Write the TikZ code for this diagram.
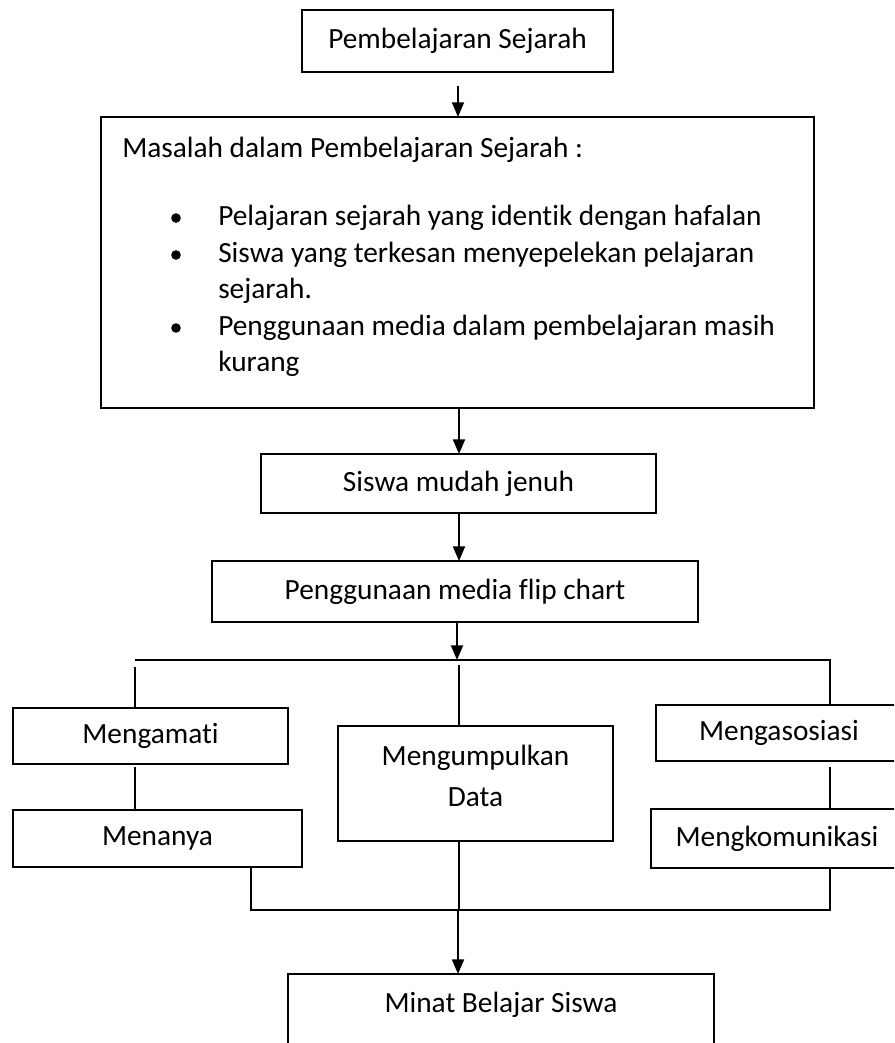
\documentclass[tikz,border=0pt]{standalone}
\usepackage{fontspec}
\setmainfont{Carlito}[Ligatures={NoCommon}]
\usetikzlibrary{arrows.meta}
\begin{document}
\begin{tikzpicture}[x=0.75pt,y=-0.75pt,
  font=\fontsize{22}{27.4}\selectfont,
  box/.style={draw, line width=1.4pt, inner sep=0pt, outer sep=0pt, align=center},
  conn/.style={line width=1pt},
  flowarrow/.style={line width=1.5pt, -{Triangle[length=11pt,width=9pt]}},
  bul/.style={fill=black}]
\useasboundingbox (0,0) rectangle (894,1043);
\clip (0,0) rectangle (894,1043);

% boxes
\node[box, minimum width=233.25pt, minimum height=46.5pt] (top) at (457.5,41) {Pembelajaran Sejarah};
\node[box, minimum width=534.75pt, minimum height=218.25pt] (big) at (457.5,262.5) {};
\node[box, minimum width=296.25pt, minimum height=44.25pt] (siswa) at (458.5,483.5) {Siswa mudah jenuh};
\node[box, minimum width=364.5pt, minimum height=45.75pt] (flip) at (455,591.5) {Penggunaan media flip chart};
\node[box, minimum width=206.25pt, minimum height=42pt] (amati) at (150.5,736) {Mengamati};
\node[box, minimum width=216.75pt, minimum height=42.75pt] (tanya) at (157.5,838.5) {Menanya};
\node[box, minimum width=206.25pt, minimum height=86.25pt] (kumpul) at (475.5,783.5) {};
\node[align=center, inner sep=0pt, font=\fontsize{22}{30.75}\selectfont] (kumpultext) at (475.5,776) {Mengumpulkan\\Data};
\node[box, minimum width=184.5pt, minimum height=42pt] (asosiasi) at (779,733) {Mengasosiasi};
\node[box, minimum width=189pt, minimum height=44.25pt] (komunikasi) at (777,838.5) {Mengkomunikasi};
\node[box, minimum width=319.5pt, minimum height=90pt] (minat) at (501,1034) {};
\node[anchor=base] (minattext) at (501,1012) {Minat Belajar Siswa};

% text of the big box
\node[anchor=base west, inner sep=0pt] (head) at (122,157) {Masalah dalam Pembelajaran Sejarah :};
\node[anchor=base west, inner sep=0pt] (l1) at (218,225) {Pelajaran sejarah yang identik dengan hafalan};
\node[anchor=base west, inner sep=0pt] (l2) at (218,262) {Siswa yang terkesan menyepelekan pelajaran};
\node[anchor=base west, inner sep=0pt] (l3) at (218,298) {sejarah.};
\node[anchor=base west, inner sep=0pt] (l4) at (218,335) {Penggunaan media dalam pembelajaran masih};
\node[anchor=base west, inner sep=0pt] (l5) at (218,371) {kurang};
\fill[bul] (176,218) circle (3.6pt);
\fill[bul] (176,255) circle (3.6pt);
\fill[bul] (176,328) circle (3.6pt);

% junction coordinates
\coordinate (hl) at (135,660);
\coordinate (hm) at (459,660);
\coordinate (hr) at (830,660);
\coordinate (bl) at (251,910);
\coordinate (bm) at (459,910);
\coordinate (br) at (830,910);

% main arrows
\draw[flowarrow, line width=1pt] (458,86) -- (458,0 |- big.north);
\draw[flowarrow] (459,0 |- big.south) -- (459,0 |- siswa.north);
\draw[flowarrow] (459,0 |- siswa.south) -- (459,0 |- flip.north);
\draw[flowarrow] (457,0 |- flip.south) -- (457,660);

% upper distribution
\draw[conn] (hl) -- (hr) -- (hr |- asosiasi.north);
\draw[conn] ([yshift=-5pt]hl) -- (hl |- amati.north);
\draw[conn] ([yshift=-3.75pt]hm) -- (hm |- kumpul.north);
\draw[conn] ([yshift=-2.25pt]hl |- amati.south) -- (hl |- tanya.north);
\draw[conn] ([yshift=-4.5pt]hr |- asosiasi.south) -- (hr |- komunikasi.north);

% lower collection
\draw[conn] (bl |- tanya.south) -- (bl) -- (br) -- (br |- komunikasi.south);
\draw[conn] (bm |- kumpul.south) -- (bm);
\draw[flowarrow] (458,910) -- (458,0 |- minat.north);
\end{tikzpicture}
\end{document}
